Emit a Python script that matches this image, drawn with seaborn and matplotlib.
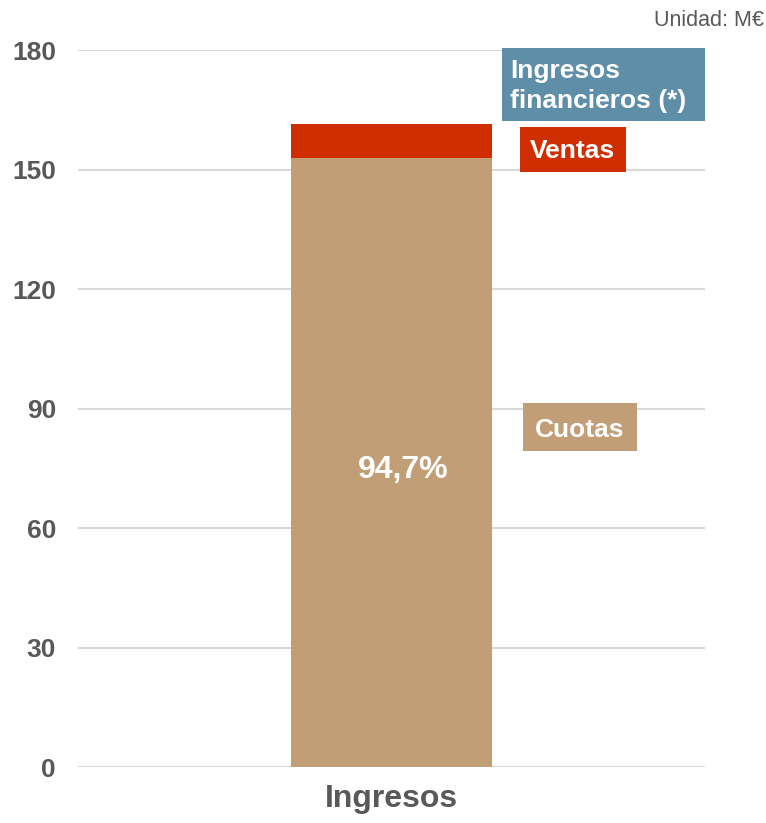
import matplotlib
matplotlib.use("Agg")
import matplotlib.pyplot as plt
import pandas as pd
import seaborn as sns
from matplotlib.patches import Rectangle

# Data (M€)
category = ["Ingresos"]
segments = ["Cuotas", "Ventas", "Ingresos financieros (*)"]
values = [152.9, 8.5, 0.1]
share_label = "94,7%"
colors = ["#C19E76", "#CF2E00", "#5F8FA8"]
yticks = [0, 30, 60, 90, 120, 150, 180]

sns.set_theme(style="white")
plt.rcParams["font.family"] = ["Liberation Sans", "DejaVu Sans"]

# cumulative heights for stacking (tallest drawn first)
cum = []
total = 0
for v in values:
    total += v
    cum.append(total)
df = pd.DataFrame({"cat": category * len(segments), "seg": segments, "top": cum})

fig = plt.figure(figsize=(7.66, 8.23), dpi=100)
ax = fig.add_axes([0.102, 0.068, 0.818, 0.871])

for i in reversed(range(len(segments))):
    sub = df.iloc[[i]]
    sns.barplot(data=sub, x="cat", y="top", color=colors[i], width=0.322,
                saturation=1, linewidth=0, ax=ax, zorder=2)

ax.set_xlim(-0.5, 0.5)
ax.set_ylim(0, 180)
ax.set_yticks(yticks)
ax.set_yticklabels([str(t) for t in yticks], fontsize=19, fontweight="bold", color="#595959")
ax.set_xticks([0])
ax.set_xticklabels(category, fontsize=23, fontweight="bold", color="#595959")
ax.tick_params(axis="both", length=0)
ax.tick_params(axis="x", pad=12)
ax.tick_params(axis="y", pad=16)
ax.set_xlabel("")
ax.set_ylabel("")
ax.yaxis.grid(True, color="#D9D9D9", linewidth=1.5, zorder=0)
ax.set_axisbelow(True)
for s in ax.spines.values():
    s.set_visible(False)

# share label inside the bar
ax.text(0.518, 0.414, share_label, transform=ax.transAxes, ha="center", va="center",
        fontsize=23, fontweight="bold", color="white", zorder=5)

# legend-like boxes
boxes = [
    (0.676, 0.901, 0.324, 0.102, colors[2], "Ingresos\nfinancieros (*)", 0.689, 0.950, "left"),
    (0.705, 0.830, 0.169, 0.063, colors[1], "Ventas", 0.789, 0.859, "center"),
    (0.710, 0.441, 0.182, 0.067, colors[0], "Cuotas", 0.801, 0.470, "center"),
]
for x0, y0, w, h, c, label, tx, ty, ha in boxes:
    ax.add_patch(Rectangle((x0, y0), w, h, transform=ax.transAxes, facecolor=c,
                           edgecolor="none", clip_on=False, zorder=4))
    ax.text(tx, ty, label, transform=ax.transAxes, ha=ha, va="center", fontsize=19,
            fontweight="bold", color="white", linespacing=1.3, zorder=5)

fig.text(0.997, 0.975, "Unidad: M€", ha="right", va="center", fontsize=15.5, color="#595959")

fig.savefig("out.png", dpi=100)
